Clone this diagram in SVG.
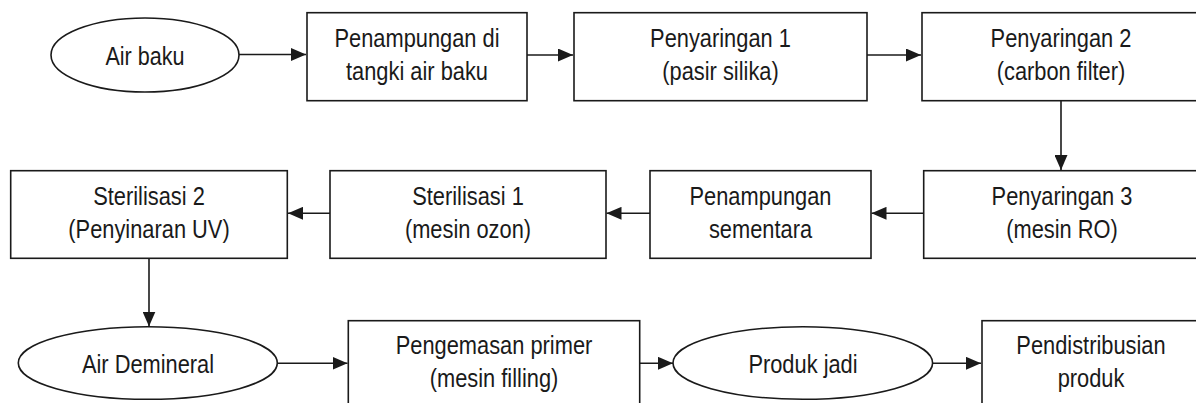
<svg xmlns="http://www.w3.org/2000/svg" width="1196" height="403" viewBox="0 0 1196 403">
<style>
  .shape { fill: #ffffff; stroke: #1a1a1a; stroke-width: 1.6; }
  .conn { fill: none; stroke: #1a1a1a; stroke-width: 1.6; }
  text { font-family: "Liberation Sans", Arial, sans-serif; font-size: 26px; fill: #1a1a1a; text-anchor: middle; }
</style>
<defs>
  <marker id="arrow" markerUnits="userSpaceOnUse" markerWidth="15" markerHeight="13" refX="15" refY="6.5" orient="auto">
    <path d="M0,0 L15,6.5 L0,13 Z" fill="#1a1a1a"/>
  </marker>
</defs>
<rect width="1196" height="403" fill="#ffffff"/>
<g id="connectors">
  <path class="conn" d="M239,54.5 H306" marker-end="url(#arrow)"/>
  <path class="conn" d="M527,55 H573" marker-end="url(#arrow)"/>
  <path class="conn" d="M867,55 H921" marker-end="url(#arrow)"/>
  <path class="conn" d="M1061,100.7 V170" marker-end="url(#arrow)"/>
  <path class="conn" d="M923.7,213.3 H871.5" marker-end="url(#arrow)"/>
  <path class="conn" d="M650,213.3 H606.5" marker-end="url(#arrow)"/>
  <path class="conn" d="M330,213.3 H288" marker-end="url(#arrow)"/>
  <path class="conn" d="M149,258.3 V326.5" marker-end="url(#arrow)"/>
  <path class="conn" d="M277.3,363.3 H347.5" marker-end="url(#arrow)"/>
  <path class="conn" d="M639.7,363.3 H673" marker-end="url(#arrow)"/>
  <path class="conn" d="M932.7,363.3 H981" marker-end="url(#arrow)"/>
</g>
<g id="air-baku">
  <ellipse class="shape" cx="145" cy="55" rx="94" ry="37"/>
  <text transform="translate(145,65) scale(0.83,1)">Air baku</text>
</g>
<g id="penampungan-tangki">
  <rect class="shape" x="307" y="12.7" width="220" height="88"/>
  <text transform="translate(417,47) scale(0.84,1)">Penampungan di</text>
  <text transform="translate(417,80) scale(0.84,1)">tangki air baku</text>
</g>
<g id="penyaringan-1">
  <rect class="shape" x="574" y="12.7" width="293" height="88"/>
  <text transform="translate(720.5,47) scale(0.84,1)">Penyaringan 1</text>
  <text transform="translate(720.5,80) scale(0.84,1)">(pasir silika)</text>
</g>
<g id="penyaringan-2">
  <rect class="shape" x="922" y="12.7" width="278" height="88"/>
  <text transform="translate(1061,47) scale(0.84,1)">Penyaringan 2</text>
  <text transform="translate(1061,80) scale(0.84,1)">(carbon filter)</text>
</g>
<g id="penyaringan-3">
  <rect class="shape" x="923.7" y="170.7" width="276" height="87.6"/>
  <text transform="translate(1062,204.5) scale(0.84,1)">Penyaringan 3</text>
  <text transform="translate(1062,238) scale(0.84,1)">(mesin RO)</text>
</g>
<g id="penampungan-sementara">
  <rect class="shape" x="650" y="170.7" width="221" height="87.6"/>
  <text transform="translate(760.5,204.5) scale(0.84,1)">Penampungan</text>
  <text transform="translate(760.5,238) scale(0.84,1)">sementara</text>
</g>
<g id="sterilisasi-1">
  <rect class="shape" x="330" y="170.7" width="276" height="87.6"/>
  <text transform="translate(468,204.5) scale(0.84,1)">Sterilisasi 1</text>
  <text transform="translate(468,238) scale(0.84,1)">(mesin ozon)</text>
</g>
<g id="sterilisasi-2">
  <rect class="shape" x="10.7" y="170.7" width="276.6" height="87.6"/>
  <text transform="translate(149,204.5) scale(0.84,1)">Sterilisasi 2</text>
  <text transform="translate(149,238) scale(0.84,1)">(Penyinaran UV)</text>
</g>
<g id="air-demineral">
  <ellipse class="shape" cx="147.8" cy="363" rx="129.5" ry="36.3"/>
  <text transform="translate(148,373) scale(0.84,1)">Air Demineral</text>
</g>
<g id="pengemasan-primer">
  <rect class="shape" x="348.3" y="320.7" width="291.4" height="100"/>
  <text transform="translate(494,354) scale(0.84,1)">Pengemasan primer</text>
  <text transform="translate(494,387) scale(0.84,1)">(mesin filling)</text>
</g>
<g id="produk-jadi">
  <ellipse class="shape" cx="802.8" cy="363" rx="129.8" ry="36.3"/>
  <text transform="translate(803,373) scale(0.84,1)">Produk jadi</text>
</g>
<g id="pendistribusian">
  <rect class="shape" x="982" y="320.7" width="218" height="100"/>
  <text transform="translate(1091,354) scale(0.84,1)">Pendistribusian</text>
  <text transform="translate(1091,387) scale(0.84,1)">produk</text>
</g>
</svg>
